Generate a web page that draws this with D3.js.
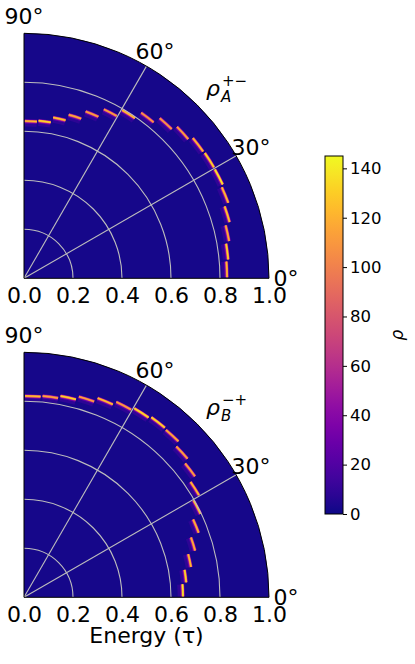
<!DOCTYPE html>
<html>
<head>
<meta charset="utf-8">
<script src="https://cdn.jsdelivr.net/npm/d3@7"></script>
<style>
  body { margin: 0; background: #fff; }
  text { font-family: "DejaVu Sans", sans-serif; fill: #000; }
</style>
</head>
<body>
<div class="chart"></div>
<script>
// angular bins: upper edge of each 5 degree bin
var binTop = [90, 85, 80, 75, 70, 65, 60, 55, 50, 45, 40, 35, 30, 25, 20, 15, 10, 5];
var binWidth = 5;

// rho_A^{+-}: energy of the bright line in each bin, and its peak value
var radiusA = [0.642, 0.646, 0.667, 0.692, 0.726, 0.763, 0.795, 0.828, 0.857, 0.879, 0.896, 0.898, 0.897, 0.889, 0.870, 0.851, 0.837, 0.829];
var peakA   = [125, 135, 130, 120, 115, 115, 125, 110, 110, 115, 125, 135, 140, 125, 130, 120, 135, 125];

// rho_B^{-+}
var radiusB = [0.822, 0.825, 0.835, 0.849, 0.867, 0.882, 0.893, 0.900, 0.896, 0.875, 0.855, 0.827, 0.797, 0.760, 0.724, 0.693, 0.665, 0.649];
var peakB   = [125, 115, 135, 115, 125, 115, 135, 135, 120, 115, 115, 125, 130, 120, 120, 125, 135, 140];

var background = 2;            // value of the empty cells
var rTicks = [0, 0.2, 0.4, 0.6, 0.8, 1.0];
var rGrid = [0.2, 0.4, 0.6, 0.8];
var thetaTicks = [0, 30, 60, 90];
var cbarTicks = [0, 20, 40, 60, 80, 100, 120, 140];
var cbarMax = 145;

// spread of the line across energy (inner edge, outer edge, fraction of peak)
var lineProfile = [
    {lo: -0.022, hi: 0.006, f: 0.05},
    {lo: -0.010, hi: 0.007, f: 0.22},
    {lo: -0.006, hi: 0.005, f: 0.55},
    {lo: -0.004, hi: 0.004, f: 0.82},
    {lo: -0.0025, hi: 0.0025, f: 1.0}
];

var width = 415, height = 664;
var R = 245;
var panels = [
    {cx: 24, cy: 278.3, radius: radiusA, peak: peakA, sub: "A", sup: "+\u2212"},
    {cx: 24, cy: 597.3, radius: radiusB, peak: peakB, sub: "B", sup: "\u2212+"}
];

var color = d3.scaleSequential(d3.interpolatePlasma).domain([0, cbarMax]);
var rScale = d3.scaleLinear().domain([0, 1]).range([0, R]);
// d3.arc angles: 0 = up, clockwise; polar theta 90 -> 0, theta 0 -> pi/2
var ang = d3.scaleLinear().domain([0, 90]).range([Math.PI / 2, 0]);
var gap = 0.3;

var svg = d3.select(".chart").append("svg")
        .attr("width", width)
        .attr("height", height);

var arc = d3.arc();

panels.forEach(function (p, pi) {
    var g = svg.append("g").attr("transform", "translate(" + p.cx + "," + p.cy + ")");

    // background wedge
    g.append("path")
            .attr("d", arc({innerRadius: 0, outerRadius: R, startAngle: 0, endAngle: Math.PI / 2}))
            .attr("fill", color(background));

    // bright line, one dash per angular bin
    binTop.forEach(function (t, i) {
        lineProfile.forEach(function (lp) {
            g.append("path")
                    .attr("d", arc({
                        innerRadius: rScale(p.radius[i] + lp.lo),
                        outerRadius: rScale(p.radius[i] + lp.hi),
                        startAngle: ang(t - gap),
                        endAngle: ang(t - binWidth + gap)
                    }))
                    .attr("fill", color(background + (p.peak[i] - background) * lp.f));
        });
    });

    // grid circles
    rGrid.forEach(function (r) {
        var path = d3.path();
        path.moveTo(0, -rScale(r));
        path.arc(0, 0, rScale(r), -Math.PI / 2, 0);
        g.append("path")
                .attr("d", path.toString())
                .attr("fill", "none")
                .attr("stroke", "#bdbdbd")
                .attr("stroke-width", 1.1);
    });

    // radial grid lines
    [30, 60].forEach(function (t) {
        var a = t * Math.PI / 180;
        g.append("line")
                .attr("x1", 0).attr("y1", 0)
                .attr("x2", R * Math.cos(a)).attr("y2", -R * Math.sin(a))
                .attr("stroke", "#bdbdbd")
                .attr("stroke-width", 1.1);
    });

    // spines
    var spine = d3.path();
    spine.moveTo(0, -R);
    spine.lineTo(0, 0);
    spine.lineTo(R, 0);
    spine.arc(0, 0, R, 0, -Math.PI / 2, true);
    g.append("path")
            .attr("d", spine.toString())
            .attr("fill", "none")
            .attr("stroke", "#000")
            .attr("stroke-width", 1);

    // theta labels
    thetaTicks.forEach(function (t) {
        var a = t * Math.PI / 180;
        g.append("text")
                .attr("x", 262 * Math.cos(a))
                .attr("y", -262 * Math.sin(a))
                .attr("text-anchor", "middle")
                .attr("dominant-baseline", "central")
                .style("font-size", "22px")
                .text(t + "\u00b0");
    });

    // energy axis
    var xAxis = d3.axisBottom(rScale)
            .tickValues(rTicks)
            .tickFormat(d3.format(".1f"))
            .tickSize(0)
            .tickPadding(9);
    var x_g = g.append("g").call(xAxis);
    x_g.select(".domain").remove();
    x_g.selectAll("text")
            .style("font-size", "22px")
            .style("font-family", "DejaVu Sans");

    // panel label rho_X^{..}
    var lab = g.append("text")
            .attr("x", 182)
            .attr("y", -182)
            .style("font-size", "22px");
    lab.append("tspan").style("font-style", "italic").text("\u03c1");
    lab.append("tspan")
            .attr("x", 197).attr("y", -176)
            .style("font-size", "15px")
            .style("font-style", "italic")
            .text(p.sub);
    lab.append("tspan")
            .attr("x", 198).attr("y", -192)
            .style("font-size", "15px")
            .text(p.sup);

    if (pi === 1) {
        g.append("text")
                .attr("x", rScale(0.5))
                .attr("y", 46)
                .attr("text-anchor", "middle")
                .style("font-size", "22px")
                .text("Energy (\u03c4)");
    }
});

// colorbar
var cb = {x: 325, y: 156, w: 18, h: 358};
var cScale = d3.scaleLinear().domain([0, cbarMax]).range([cb.y + cb.h, cb.y]);

var defs = svg.append("defs");
var grad = defs.append("linearGradient")
        .attr("id", "plasma")
        .attr("x1", "0").attr("y1", "1")
        .attr("x2", "0").attr("y2", "0");
d3.range(0, 1.0001, 0.05).forEach(function (s) {
    grad.append("stop")
            .attr("offset", s)
            .attr("stop-color", d3.interpolatePlasma(s));
});

svg.append("rect")
        .attr("x", cb.x).attr("y", cb.y)
        .attr("width", cb.w).attr("height", cb.h)
        .attr("fill", "url(#plasma)")
        .attr("stroke", "#000")
        .attr("stroke-width", 1);

var cAxis = d3.axisRight(cScale)
        .tickValues(cbarTicks)
        .tickSize(4)
        .tickPadding(3);
var c_g = svg.append("g")
        .attr("transform", "translate(" + (cb.x + cb.w) + ",0)")
        .call(cAxis);
c_g.select(".domain").remove();
c_g.selectAll("line").attr("stroke", "#000");
c_g.selectAll("text")
        .style("font-size", "16.5px")
        .style("font-family", "DejaVu Sans");

svg.append("text")
        .attr("transform", "translate(397," + (cb.y + cb.h / 2) + ") rotate(-90)")
        .attr("text-anchor", "middle")
        .attr("dominant-baseline", "central")
        .style("font-size", "17px")
        .style("font-style", "italic")
        .text("\u03c1");
</script>
</body>
</html>
